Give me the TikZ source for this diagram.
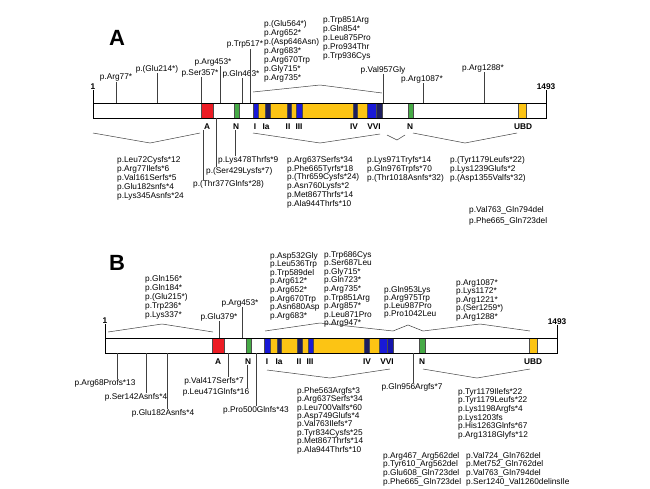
\documentclass[tikz,border=0pt]{standalone}
\usepackage{fontspec}
\setmainfont{Liberation Sans}
\usetikzlibrary{calc}
\definecolor{rosso}{RGB}{236,28,36}
\definecolor{verde}{RGB}{70,170,70}
\definecolor{blu}{RGB}{25,25,215}
\definecolor{blunotte}{RGB}{30,30,95}
\definecolor{giallo}{RGB}{252,196,20}
\begin{document}
\begin{tikzpicture}[x=1pt,y=-1pt,
  mut/.style={font=\fontsize{8.3}{9}\selectfont,inner sep=0pt,align=left},
  pila/.style={mut,anchor=north west},
  fitta/.style={pila,font=\fontsize{8.3}{7.4}\selectfont},
  dom/.style={font=\bfseries\fontsize{8.3}{9}\selectfont,inner sep=0pt},
  pannello/.style={font=\bfseries\fontsize{22}{22}\selectfont,inner sep=0pt},
  filo/.style={black!75,line width=0.5pt},
  barra/.style={draw=black,line width=0.9pt},
  box/.style={draw=black!70,line width=0.3pt}]

\useasboundingbox (0,0) rectangle (650,488);

% Proteina A

\begin{scope}
\coordinate (a0) at (93,103);
\coordinate (a1) at (546,118);

\fill[white] (a0) rectangle (a1);
\draw[box,fill=rosso] (201,103) rectangle (213,118);
\draw[box,fill=verde] (234,103) rectangle (239,118);
\fill[giallo] (253,103) rectangle (367,118);
\draw[box,fill=blu] (253,103) rectangle (258,118);
\draw[box,fill=blunotte] (265,103) rectangle (270,118);
\draw[box,fill=blunotte] (287,103) rectangle (291,118);
\draw[box,fill=blu] (296,103) rectangle (302,118);
\draw[box,fill=blunotte] (353,103) rectangle (357,118);
\draw[box,fill=blu] (367,103) rectangle (376,118);
\draw[box,fill=blunotte] (376,103) rectangle (382,118);
\draw[box,fill=verde] (408,103) rectangle (413,118);
\draw[box,fill=giallo] (518,103) rectangle (526,118);
\draw[barra] (a0) rectangle (a1);

\node[pannello] (pA) at (117,38) {A};
\node[dom] (unoA) at (93,87) {1};
\node[dom] (fineA) at (546,87) {1493};
\draw[barra] (unoA.south) -- (unoA.south |- a0);
\draw[barra] (fineA.south) -- (fineA.south |- a0);

% domini
\node[dom] (dA) at (207,127) {A};
\node[dom] (dN) at (236,127) {N};
\node[dom] (dI) at (255,127) {I};
\node[dom] (dIa) at (266,127) {Ia};
\node[dom] (dII) at (288,127) {II};
\node[dom] (dIII) at (299,127) {III};
\node[dom] (dIV) at (354,127) {IV};
\node[dom] (dVVI) at (374,127) {VVI};
\node[dom] (dN2) at (410,127) {N};
\node[dom] (dUBD) at (523,127) {UBD};

% sopra
\node[mut] (r77) at (116,78) {p.Arg77*};
\node[mut] (e214) at (157,69) {p.(Glu214*)};
\node[mut] (s357) at (200,73) {p.Ser357*};
\node[mut] (r453) at (213,62) {p.Arg453*};
\node[mut] (q463) at (241,74) {p.Gln463*};
\node[mut] (w517) at (245,45) {p.Trp517*};
\node[mut] (v957) at (383,70) {p.Val957Gly};
\node[mut] (r1087) at (422,79) {p.Arg1087*};
\node[mut] (r1288) at (483,68) {p.Arg1288*};

\coordinate (c77) at (116,103);
\coordinate (c214) at (157,103);
\coordinate (c357) at (201,103);
\coordinate (c453) at (220,103);
\coordinate (c463) at (242,103);
\coordinate (c517) at (250,103);
\coordinate (c957) at (383,103);
\coordinate (c1087) at (423,103);
\coordinate (c1288) at (484,103);

\draw[filo] (c77) -- (c77 |- r77.south);
\draw[filo] (c214) -- (c214 |- e214.south);
\draw[filo] (c357) -- (c357 |- s357.south);
\draw[filo] (c453) -- (c453 |- r453.south);
\draw[filo] (c463) -- (c463 |- q463.south);
\draw[filo] (c517) -- (c517 |- w517.south);
\draw[filo] (c957) -- (c957 |- v957.south);
\draw[filo] (c1087) -- (c1087 |- r1087.south);
\draw[filo] (c1288) -- (c1288 |- r1288.south);

\node[pila] (sA1) at (264,20) {p.(Glu564*)\\p.Arg652*\\p.(Asp646Asn)\\p.Arg683*\\p.Arg670Trp\\p.Gly715*\\p.Arg735*};
\node[pila] (sA2) at (323,17) {p.Trp851Arg\\p.Gln854*\\p.Leu875Pro\\p.Pro934Thr\\p.Trp936Cys};
\draw[filo] (253,92) -- (320,85) -- (382,93);

% sotto
\draw[filo] (93,133) -- (150,143) -- (200,133);
\draw[filo] (253,133) -- (320,143) -- (380,134);
\draw[filo] (387,135) -- (397,140) -- (405,135);
\draw[filo] (413,133) -- (465,143) -- (517,133);

\node[pila] (fA1) at (117,156) {p.Leu72Cysfs*12\\p.Arg77Ilefs*6\\p.Val161Serfs*5\\p.Glu182snfs*4\\p.Lys345Asnfs*24};
\node[pila] (k478) at (218,156) {p.Lys478Thrfs*9};
\node[pila] (s429) at (206,167) {p.(Ser429Lysfs*7)};
\node[pila] (t377) at (193,180) {p.(Thr377Glnfs*28)};
\node[pila,font=\fontsize{8.3}{8.8}\selectfont] (fA2) at (287,156) {p.Arg637Serfs*34\\p.Phe665Tyrfs*18\\p.(Thr659Cysfs*24)\\p.Asn760Lysfs*2\\p.Met867Thrfs*14\\p.Ala944Thrfs*10};
\node[pila] (fA3) at (367,156) {p.Lys971Tryfs*14\\p.Gln976Trpfs*70\\p.(Thr1018Asnfs*32)};
\node[pila] (fA4) at (450,156) {p.(Tyr1179Leufs*22)\\p.Lys1239Glufs*2\\p.(Asp1355Valfs*32)};
\node[pila,font=\fontsize{8.3}{11}\selectfont] (delA) at (469,206) {p.Val763\_Gln794del\\p.Phe665\_Gln723del};

\coordinate (c377) at (203,118);
\coordinate (c429) at (216,118);
\coordinate (c478) at (235,118);
\draw[filo] (c377 |- dA.south) -- (c377 |- t377.north);
\draw[filo] (c429) -- (c429 |- s429.north);
\draw[filo] (c478 |- dN.south) -- (c478 |- k478.north);
\end{scope}

% Proteina B

\begin{scope}
\coordinate (b0) at (105,338);
\coordinate (b1) at (557,353);

\fill[white] (b0) rectangle (b1);
\draw[box,fill=rosso] (212,338) rectangle (224,353);
\draw[box,fill=verde] (246,338) rectangle (251,353);
\fill[giallo] (264,338) rectangle (379,353);
\draw[box,fill=blu] (264,338) rectangle (270,353);
\draw[box,fill=blunotte] (277,338) rectangle (281,353);
\draw[box,fill=blunotte] (297,338) rectangle (302,353);
\draw[box,fill=blu] (308,338) rectangle (313,353);
\draw[box,fill=blunotte] (364,338) rectangle (369,353);
\draw[box,fill=blu] (379,338) rectangle (387,353);
\draw[box,fill=blu!80!black] (387,338) rectangle (393,353);
\draw[box,fill=verde] (419,338) rectangle (425,353);
\draw[box,fill=giallo] (529,338) rectangle (537,353);
\draw[barra] (b0) rectangle (b1);

\node[pannello] (pB) at (117,263) {B};
\node[dom] (unoB) at (105,321) {1};
\node[dom] (fineB) at (557,322) {1493};
\draw[barra] (unoB.south) -- (unoB.south |- b0);
\draw[barra] (fineB.south) -- (fineB.south |- b0);

% domini
\node[dom] (eA) at (218,362) {A};
\node[dom] (eN) at (248,362) {N};
\node[dom] (eI) at (267,362) {I};
\node[dom] (eIa) at (279,362) {Ia};
\node[dom] (eII) at (299,362) {II};
\node[dom] (eIII) at (310,362) {III};
\node[dom] (eIV) at (367,362) {IV};
\node[dom] (eVVI) at (387,362) {VVI};
\node[dom] (eN2) at (422,362) {N};
\node[dom] (eUBD) at (533,362) {UBD};

% sopra
\node[pila] (sB1) at (145,275) {p.Gln156*\\p.Gln184*\\p.(Glu215*)\\p.Trp236*\\p.Lys337*};
\draw[filo] (108,332) -- (162,324) -- (213,332);
\node[mut] (e379) at (219,317) {p.Glu379*};
\node[mut] (q453) at (240,303) {p.Arg453*};
\coordinate (d379) at (219,338);
\coordinate (d453) at (242,338);
\draw[filo] (d379) -- (d379 |- e379.south);
\draw[filo] (d453) -- (d453 |- q453.south);

\node[fitta] (sB2) at (270,252) {p.Asp532Gly\\p.Leu536Trp\\p.Trp589del\\p.Arg612*\\p.Arg652*\\p.Arg670Trp\\p.Asn680Asp\\p.Arg683*};
\node[pila,font=\fontsize{8.3}{7.3}\selectfont] (sB3) at (324,251) {p.Trp686Cys\\p.Ser687Leu\\p.Gly715*\\p.Gln723*\\p.Arg735*\\p.Trp851Arg\\p.Arg857*\\p.Leu871Pro\\p.Arg947*};
\node[pila,font=\fontsize{8.3}{8}\selectfont] (sB4) at (384,286) {p.Gln953Lys\\p.Arg975Trp\\p.Leu987Pro\\p.Pro1042Leu};
\node[pila,font=\fontsize{8.3}{7.5}\selectfont] (sB5) at (456,279) {p.Arg1087*\\p.Lys1172*\\p.Arg1221*\\p.(Ser1259*)\\p.Arg1288*};
\draw[filo] (265,331) -- (320,323) -- (393,331) -- (408,325) -- (423,331) -- (480,324) -- (530,331);

% sotto
\node[mut] (r68) at (105,383) {p.Arg68Profs*13};
\node[mut] (s142) at (136,397) {p.Ser142Asnfs*4};
\node[mut] (e182) at (163,413) {p.Glu182Asnfs*4};
\node[mut] (v417) at (214,381) {p.Val417Serfs*7};
\node[mut] (l471) at (216,392) {p.Leu471Glnfs*16};
\node[mut] (p500) at (256,410) {p.Pro500Glnfs*43};
\node[mut] (q956) at (412,387) {p.Gln956Argfs*7};

\coordinate (d68) at (117,353);
\coordinate (d142) at (146,353);
\coordinate (d182) at (167,353);
\coordinate (d417) at (228,353);
\coordinate (d471) at (247,353);
\coordinate (d500) at (256,353);
\coordinate (d956) at (413,353);

\draw[filo] (d68) -- (d68 |- r68.north);
\draw[filo] (d142) -- (d142 |- s142.north);
\draw[filo] (d182) -- (d182 |- e182.north);
\draw[filo] (d417) -- (d417 |- v417.north);
\draw[filo] (d471 |- eN.south) -- (d471 |- l471.north);
\draw[filo] (d500) -- (d500 |- p500.north);
\draw[filo] (d956) -- (d956 |- q956.north);

\draw[filo] (267,370) -- (330,378) -- (390,369);
\draw[filo] (423,369) -- (477,378) -- (530,369);

\node[pila,font=\fontsize{8.3}{8.4}\selectfont] (fB1) at (297,387) {p.Phe563Argfs*3\\p.Arg637Serfs*34\\p.Leu700Valfs*60\\p.Asp749Glufs*4\\p.Val763Ilefs*7\\p.Tyr834Cysfs*25\\p.Met867Thrfs*14\\p.Ala944Thrfs*10};
\node[pila,font=\fontsize{8.3}{8.6}\selectfont] (fB2) at (458,388) {p.Tyr1179Ilefs*22\\p.Tyr1179Leufs*22\\p.Lys1198Argfs*4\\p.Lys1203fs\\p.His1263Glnfs*67\\p.Arg1318Glyfs*12};
\node[pila,font=\fontsize{8.3}{8.7}\selectfont] (delB1) at (383,452) {p.Arg467\_Arg562del\\p.Tyr610\_Arg562del\\p.Glu608\_Gln723del\\p.Phe665\_Gln723del};
\node[pila,font=\fontsize{8.3}{8.7}\selectfont] (delB2) at (466,452) {p.Val724\_Gln762del\\p.Met752\_Gln762del\\p.Val763\_Gln794del\\p.Ser1240\_Val1260delinsIle};
\end{scope}

\end{tikzpicture}
\end{document}
